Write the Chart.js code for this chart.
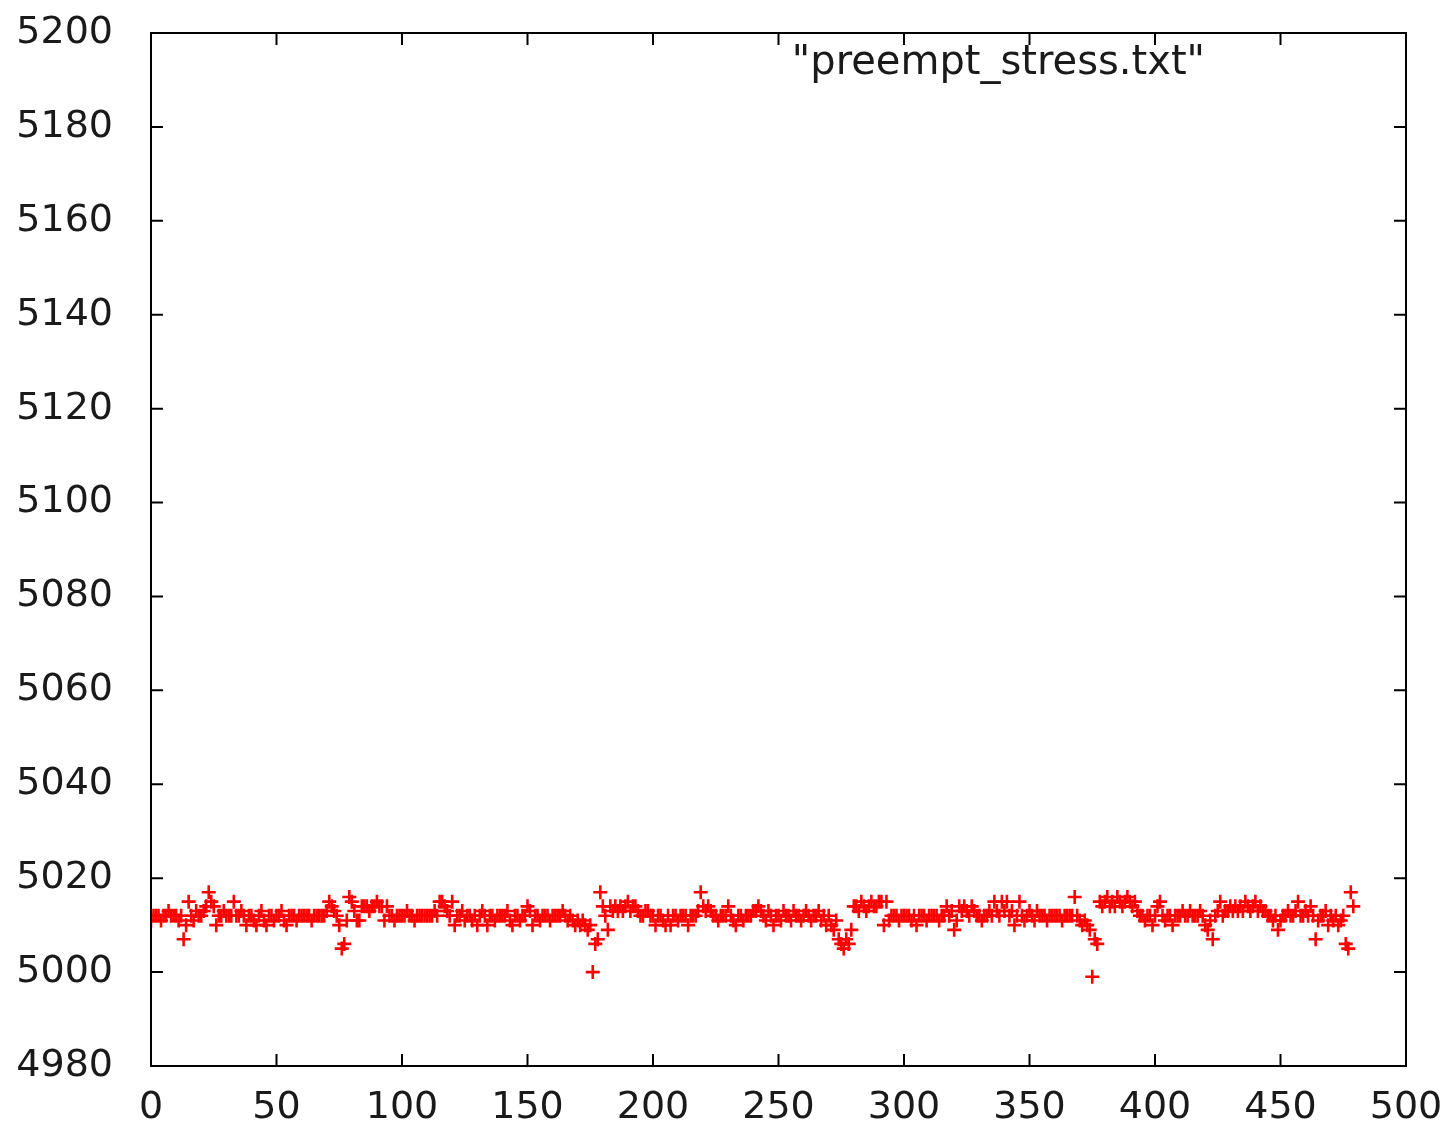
<!DOCTYPE html>
<html><head><meta charset="utf-8">
<script src="https://cdn.jsdelivr.net/npm/chart.js@4.4.1/dist/chart.umd.min.js"></script>
<style>
html,body{margin:0;padding:0;background:#fff;}
#wrap{position:relative;width:1450px;height:1128px;}
#key{position:absolute;right:245px;top:37px;font:40px "DejaVu Sans";line-height:46px;color:#1a1a1a;white-space:nowrap;}
</style></head><body>
<div id="wrap"><canvas id="c" width="1450" height="1128"></canvas><div id="key"></div></div>
<script>
const seriesName = '"preempt_stress.txt"';
const values = [
5011,5012,5012,5012,5011,5012,5012,5013,5012,5012,
5012,5011,5012,5007,5010,5015,5012,5011,5013,5012,
5012,5013,5014,5017,5015,5014,5010,5012,5012,5013,
5012,5012,5012,5015,5012,5012,5013,5012,5010,5012,
5012,5011,5010,5012,5013,5011,5010,5012,5012,5011,
5012,5012,5013,5011,5010,5012,5012,5012,5011,5012,
5012,5012,5012,5012,5011,5012,5012,5012,5012,5012,
5013,5015,5014,5013,5012,5010,5005,5006,5011,5016,
5015,5013,5011,5011,5014,5014,5014,5013,5014,5014,
5015,5014,5014,5011,5014,5012,5012,5011,5012,5012,
5012,5012,5013,5012,5012,5011,5012,5012,5012,5012,
5012,5012,5012,5013,5012,5015,5015,5014,5013,5012,
5015,5010,5012,5012,5013,5011,5012,5012,5011,5012,
5010,5012,5013,5012,5010,5012,5012,5011,5012,5012,
5012,5012,5013,5011,5010,5012,5012,5011,5012,5012,
5014,5013,5010,5012,5012,5011,5012,5012,5012,5011,
5012,5012,5012,5012,5013,5012,5011,5012,5011,5010,
5011,5010,5011,5010,5009,5010,5000,5006,5007,5017,
5014,5012,5009,5014,5013,5014,5013,5014,5013,5014,
5015,5013,5014,5014,5013,5012,5012,5013,5013,5012,
5012,5010,5012,5012,5011,5010,5012,5010,5012,5012,
5011,5012,5012,5012,5010,5012,5012,5012,5013,5017,
5014,5013,5014,5013,5012,5012,5011,5012,5012,5012,
5014,5012,5011,5010,5012,5012,5011,5012,5012,5012,
5013,5013,5014,5013,5012,5011,5013,5012,5010,5012,
5012,5011,5013,5012,5012,5011,5013,5012,5012,5011,
5012,5013,5012,5011,5012,5012,5013,5011,5012,5010,
5012,5010,5009,5011,5007,5006,5005,5007,5006,5009,
5014,5014,5013,5015,5014,5013,5014,5015,5014,5014,
5015,5015,5010,5015,5011,5012,5012,5012,5011,5012,
5012,5012,5012,5011,5012,5010,5012,5012,5012,5011,
5012,5012,5012,5012,5011,5012,5012,5014,5012,5013,
5009,5011,5014,5013,5014,5013,5012,5014,5013,5012,
5012,5011,5012,5012,5013,5012,5015,5013,5012,5015,
5013,5015,5012,5013,5010,5012,5015,5012,5011,5012,
5013,5012,5011,5013,5012,5012,5012,5011,5012,5012,
5012,5012,5012,5011,5012,5012,5012,5012,5016,5012,
5011,5010,5011,5010,5009,4999,5007,5006,5015,5014,
5015,5016,5014,5015,5014,5016,5015,5014,5015,5016,
5015,5014,5015,5013,5012,5012,5011,5012,5012,5010,
5012,5014,5015,5012,5011,5012,5012,5010,5012,5012,
5012,5013,5012,5012,5013,5012,5012,5012,5013,5012,
5010,5009,5011,5007,5012,5013,5015,5012,5013,5013,
5014,5013,5014,5013,5014,5013,5015,5014,5013,5014,
5015,5013,5014,5013,5013,5012,5012,5011,5012,5009,
5011,5012,5012,5013,5012,5012,5013,5015,5012,5012,
5013,5012,5014,5012,5007,5011,5012,5012,5013,5010,
5012,5011,5012,5010,5011,5012,5006,5005,5017,5014
];
const xTickValues = [0,50,100,150,200,250,300,350,400,450,500];
const yTickValues = [4980,5000,5020,5040,5060,5080,5100,5120,5140,5160,5180,5200];

document.getElementById('key').textContent = seriesName;

const points = values.map((v, i) => ({x: i, y: v}));

const frame = {
  id: 'frame',
  afterDatasetsDraw(chart) {
    const {ctx, chartArea: a, scales: {x, y}} = chart;
    ctx.save();
    ctx.strokeStyle = '#000';
    ctx.lineWidth = 2;
    ctx.strokeRect(a.left, a.top, a.right - a.left, a.bottom - a.top);
    const L = 12;
    ctx.beginPath();
    y.ticks.forEach(t => {
      const p = y.getPixelForValue(t.value);
      if (p <= a.top + 1 || p >= a.bottom - 1) return;
      ctx.moveTo(a.left, p); ctx.lineTo(a.left + L, p);
      ctx.moveTo(a.right, p); ctx.lineTo(a.right - L, p);
    });
    x.ticks.forEach(t => {
      const p = x.getPixelForValue(t.value);
      if (p <= a.left + 1 || p >= a.right - 1) return;
      ctx.moveTo(p, a.bottom); ctx.lineTo(p, a.bottom - L);
      ctx.moveTo(p, a.top); ctx.lineTo(p, a.top + L);
    });
    ctx.stroke();
    ctx.restore();
  }
};

const tickFont = {family: 'DejaVu Sans', size: 38};

new Chart(document.getElementById('c'), {
  type: 'scatter',
  data: {
    datasets: [{
      label: seriesName,
      data: points,
      pointStyle: 'cross',
      pointRadius: 7,
      pointHoverRadius: 7,
      borderWidth: 2.6,
      borderColor: 'rgb(255,0,0)',
      backgroundColor: 'rgb(255,0,0)'
    }]
  },
  options: {
    responsive: false,
    animation: false,
    layout: {padding: {left: 0, top: 33, right: 44, bottom: 0}},
    plugins: {legend: {display: false}, tooltip: {enabled: false}},
    scales: {
      x: {
        type: 'linear', min: 0, max: 500,
        grid: {display: false, drawTicks: false},
        border: {display: false},
        afterBuildTicks: s => { s.ticks = xTickValues.map(v => ({value: v})); },
        afterFit: s => { s.height = 62; s.paddingLeft = 0; s.paddingRight = 0; s.paddingTop = 0; s.paddingBottom = 0; },
        ticks: {padding: 19, color: '#1a1a1a', font: tickFont, maxRotation: 0, autoSkip: false,
                callback: v => String(v)}
      },
      y: {
        type: 'linear', min: 4980, max: 5200,
        grid: {display: false, drawTicks: false},
        border: {display: false},
        afterBuildTicks: s => { s.ticks = yTickValues.map(v => ({value: v})); },
        afterFit: s => { s.width = 151; s.paddingLeft = 0; s.paddingRight = 0; s.paddingTop = 0; s.paddingBottom = 0; },
        ticks: {padding: 38, color: '#1a1a1a', font: tickFont, autoSkip: false,
                callback: v => String(v)}
      }
    }
  },
  plugins: [frame]
});
</script>
</body></html>
